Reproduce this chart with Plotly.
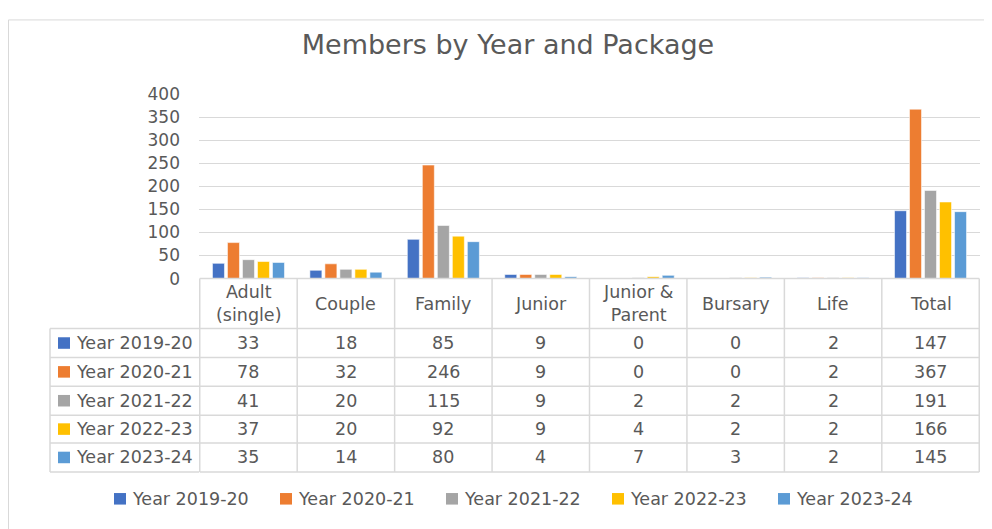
import plotly.graph_objects as go

categories = ["Adult (single)", "Couple", "Family", "Junior", "Junior & Parent", "Bursary", "Life", "Total"]
header_labels = ["Adult<br>(single)", "Couple", "Family", "Junior", "Junior &<br>Parent", "Bursary", "Life", "Total"]
series_names = ["Year 2019-20", "Year 2020-21", "Year 2021-22", "Year 2022-23", "Year 2023-24"]
y2019_20 = [33, 18, 85, 9, 0, 0, 2, 147]
y2020_21 = [78, 32, 246, 9, 0, 0, 2, 367]
y2021_22 = [41, 20, 115, 9, 2, 2, 2, 191]
y2022_23 = [37, 20, 92, 9, 4, 2, 2, 166]
y2023_24 = [35, 14, 80, 4, 7, 3, 2, 145]
series_values = [y2019_20, y2020_21, y2021_22, y2022_23, y2023_24]
colors = ["#4472C4", "#ED7D31", "#A5A5A5", "#FFC000", "#5B9BD5"]
y_ticks = [0, 50, 100, 150, 200, 250, 300, 350, 400]

OFF = 8  # page body margin of the html page
W, H = 992 - OFF, 529 - OFF
FONT = "DejaVu Sans"
TXT = "#595959"
GRID = "#d9d9d9"
FS = 17.5


def fx(p):
    return (p - OFF) / W


def fy(p):
    return 1 - (p - OFF) / H


fig = go.Figure()
for name, vals, col in zip(series_names, series_values, colors):
    fig.add_trace(go.Bar(x=categories, y=vals, name=name,
                         marker=dict(color=col, line=dict(color="rgba(255,255,255,0.7)", width=0.8)),
                         showlegend=False))

shapes = []
annotations = []

# chart frame
shapes.append(dict(type="rect", xref="paper", yref="paper",
                   x0=fx(8.5), x1=fx(1010), y0=fy(10), y1=fy(545),
                   line=dict(color=GRID, width=1), layer="below"))

# table geometry
header_top, header_bot = 279, 331
row_edges = [331, 361, 391, 421, 450, 480]
label_left = 50
n = len(categories)
lc = dict(color=GRID, width=1.5)

shapes.append(dict(type="line", xref="x", yref="paper", x0=-0.5, x1=n - 0.5,
                   y0=fy(header_top), y1=fy(header_top), line=lc))
for e in row_edges:
    shapes.append(dict(type="line", xref="paper", yref="paper", x0=fx(label_left), x1=fx(199),
                       y0=fy(e), y1=fy(e), line=lc))
    shapes.append(dict(type="line", xref="x", yref="paper", x0=-0.5, x1=n - 0.5,
                       y0=fy(e), y1=fy(e), line=lc))
shapes.append(dict(type="line", xref="paper", yref="paper", x0=fx(label_left), x1=fx(label_left),
                   y0=fy(row_edges[0]), y1=fy(row_edges[-1]), line=lc))
for i in range(n + 1):
    shapes.append(dict(type="line", xref="x", yref="paper", x0=i - 0.5, x1=i - 0.5,
                       y0=fy(header_top), y1=fy(row_edges[-1]), line=lc))

for i, lab in enumerate(header_labels):
    annotations.append(dict(x=categories[i], xref="x", y=fy((header_top + header_bot) / 2), yref="paper",
                            text=lab, showarrow=False, xanchor="center", yanchor="middle",
                            font=dict(family=FONT, size=FS, color=TXT)))

for r, (name, vals, col) in enumerate(zip(series_names, series_values, colors)):
    yc = (row_edges[r] + row_edges[r + 1]) / 2
    shapes.append(dict(type="rect", xref="paper", yref="paper",
                       x0=fx(58), x1=fx(70), y0=fy(yc - 6), y1=fy(yc + 6),
                       fillcolor=col, line=dict(width=0)))
    annotations.append(dict(x=fx(74), xref="paper", y=fy(yc), yref="paper", text=name,
                            showarrow=False, xanchor="left", yanchor="middle",
                            font=dict(family=FONT, size=FS, color=TXT)))
    for i, v in enumerate(vals):
        annotations.append(dict(x=categories[i], xref="x", y=fy(yc), yref="paper", text=str(v),
                                showarrow=False, xanchor="center", yanchor="middle",
                                font=dict(family=FONT, size=FS, color=TXT)))

leg_y = 508
for k, (name, col) in enumerate(zip(series_names, colors)):
    x0 = 114 + 166 * k
    shapes.append(dict(type="rect", xref="paper", yref="paper",
                       x0=fx(x0), x1=fx(x0 + 12), y0=fy(leg_y - 6), y1=fy(leg_y + 6),
                       fillcolor=col, line=dict(width=0)))
    annotations.append(dict(x=fx(x0 + 16), xref="paper", y=fy(leg_y), yref="paper", text=name,
                            showarrow=False, xanchor="left", yanchor="middle",
                            font=dict(family=FONT, size=FS, color=TXT)))

fig.update_layout(
    width=W, height=H,
    margin=dict(l=0, r=0, t=0, b=0),
    paper_bgcolor="white", plot_bgcolor="white",
    barmode="group", bargap=0.23, bargroupgap=0.2,
    title=dict(text="Members by Year and Package", x=fx(508), y=fy(45),
               xanchor="center", yanchor="middle",
               font=dict(family=FONT, size=27, color=TXT)),
    xaxis=dict(domain=[fx(199), fx(980)], showticklabels=False, showgrid=False,
               showline=False, zeroline=False, ticks=""),
    yaxis=dict(domain=[fy(279), fy(87)], range=[0, 400], tickvals=y_ticks,
               showgrid=True, gridcolor=GRID, gridwidth=1, zeroline=False, showline=False,
               ticks="", ticklabelstandoff=18,
               tickfont=dict(family=FONT, size=17, color=TXT)),
    shapes=shapes, annotations=annotations,
    showlegend=False,
)

fig.write_html("out.html")
